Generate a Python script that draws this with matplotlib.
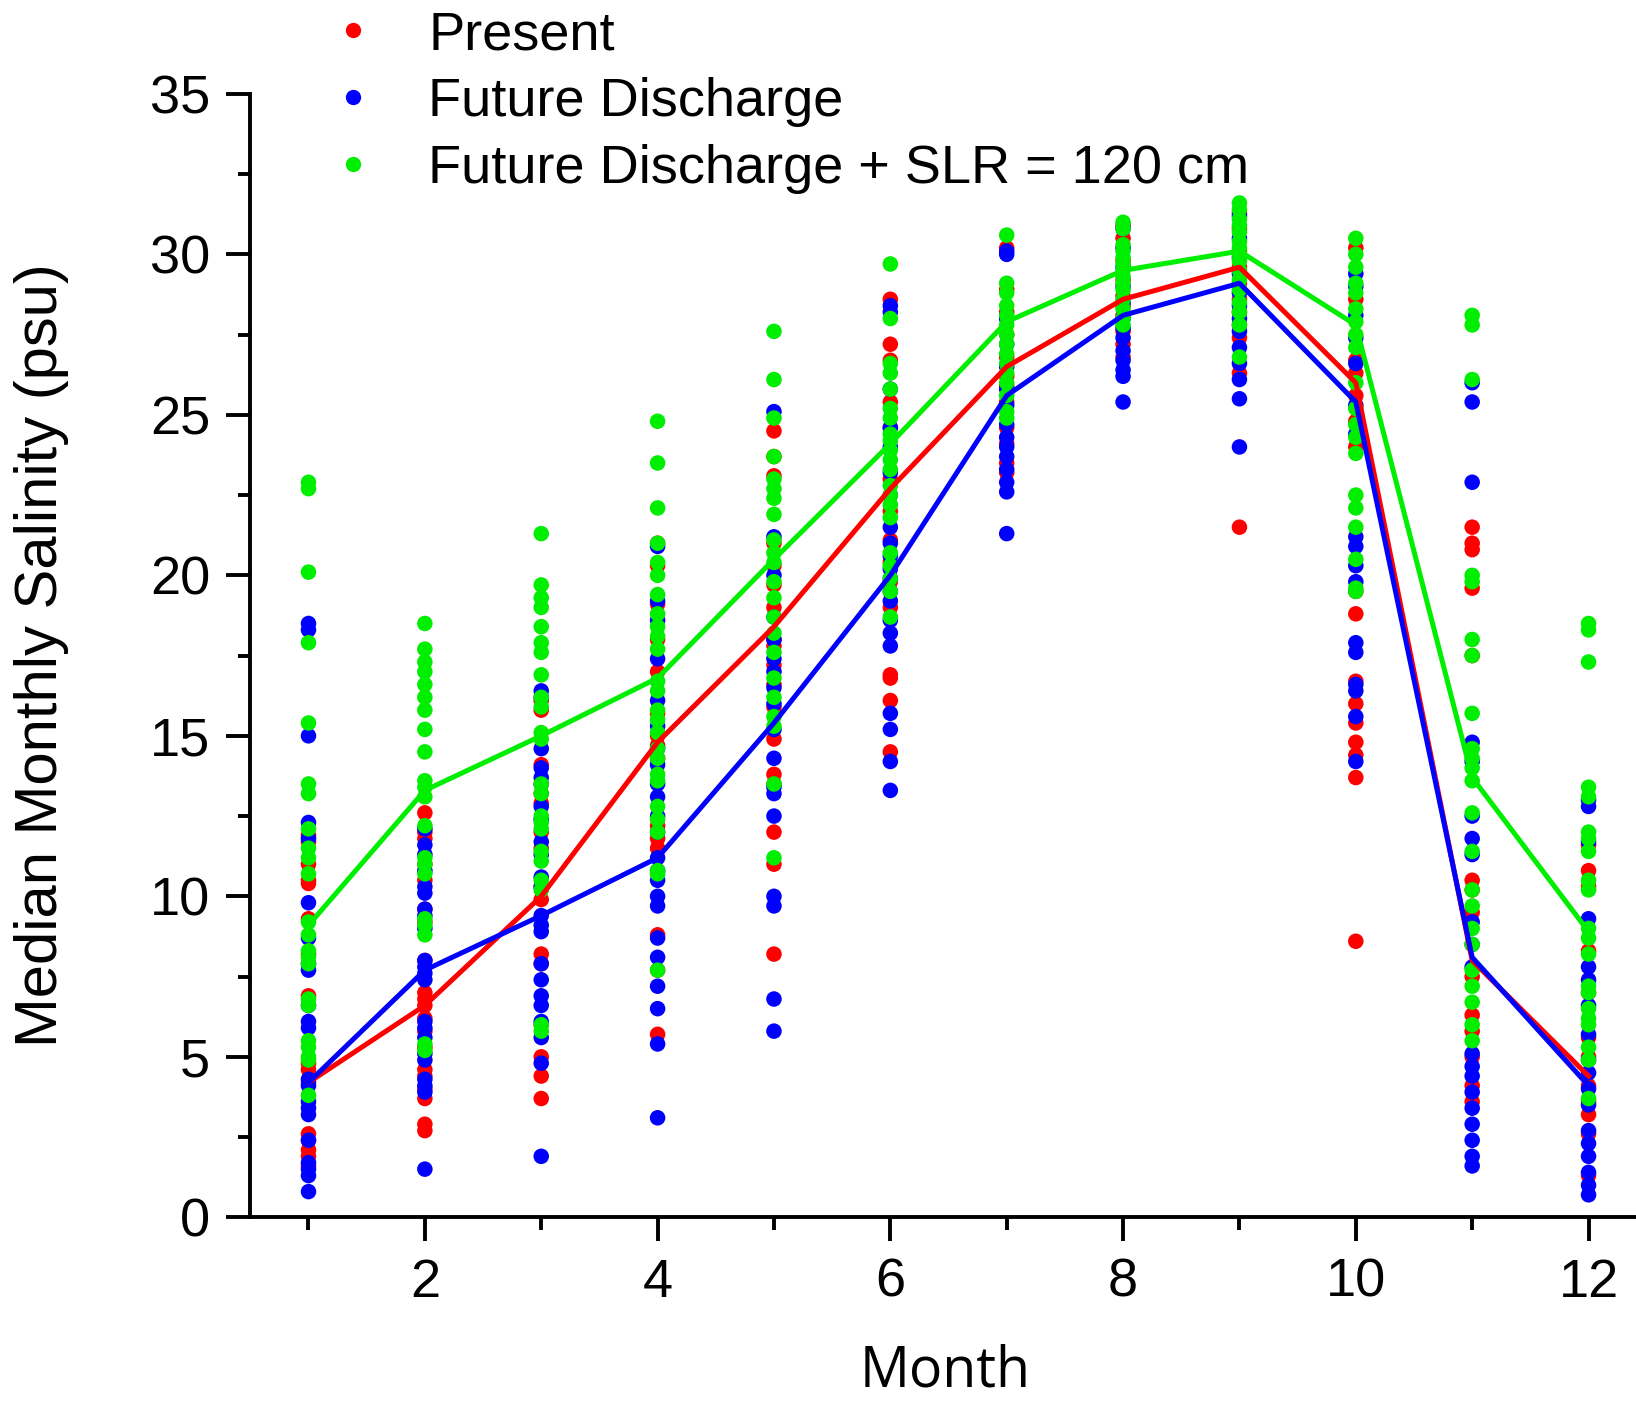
import matplotlib
matplotlib.use("Agg")
import matplotlib.pyplot as plt
from matplotlib.ticker import MultipleLocator
from matplotlib.lines import Line2D

months = list(range(1, 13))

# Scatter values per month (psu)
present = {
    1: [11.9, 11.7, 11.0, 10.5, 10.4, 9.3, 8.2, 6.9, 4.8, 4.6, 4.2, 2.6, 2.4, 2.1, 1.9, 1.6],
    2: [12.6, 12.0, 11.8, 11.0, 10.5, 9.6, 9.2, 8.0, 7.0, 6.8, 6.6, 6.2, 5.8, 5.3, 4.6, 4.4, 4.0, 3.7, 2.9, 2.7],
    3: [16.1, 15.8, 14.1, 13.2, 12.9, 12.0, 11.5, 10.3, 9.9, 8.2, 7.9, 6.0, 5.0, 4.4, 3.7],
    4: [21.0, 20.3, 19.1, 18.0, 17.0, 15.7, 15.0, 14.7, 14.3, 12.2, 11.8, 11.5, 8.8, 7.7, 5.7],
    5: [24.5, 23.7, 23.1, 21.0, 20.3, 19.7, 19.0, 18.0, 17.8, 17.2, 16.6, 15.9, 14.9, 13.8, 13.5, 12.0, 11.0, 8.2],
    6: [28.6, 27.2, 26.7, 25.4, 24.6, 23.0, 22.0, 21.1, 20.4, 19.8, 19.0, 16.9, 16.8, 16.1, 14.5],
    7: [30.2, 28.9, 28.2, 27.5, 26.8, 26.2, 25.9, 25.4, 24.6, 24.1, 23.5, 23.2],
    8: [30.9, 30.5, 29.8, 29.2, 28.7, 28.4, 28.1, 27.6, 27.2, 26.8],
    9: [31.3, 30.8, 30.1, 29.6, 29.1, 28.6, 28.2, 27.8, 27.4, 26.3, 21.5],
    10: [30.2, 28.6, 26.7, 26.3, 25.6, 24.8, 24.0, 19.5, 18.8, 16.7, 16.0, 15.4, 14.8, 14.4, 13.7, 8.6],
    11: [21.5, 21.0, 20.8, 19.6, 17.5, 10.5, 10.2, 9.5, 7.5, 6.3, 5.8, 5.0, 4.1, 3.6],
    12: [11.6, 10.8, 10.3, 8.3, 7.0, 5.6, 5.0, 4.1, 3.6, 3.2, 2.6, 1.3],
}
future = {
    1: [18.5, 18.3, 15.0, 12.3, 11.8, 9.8, 8.7, 7.9, 7.7, 6.6, 6.1, 5.9, 4.3, 4.1, 3.6, 3.4, 3.2, 2.4, 1.7, 1.5, 1.3, 0.8],
    2: [12.1, 11.6, 11.3, 10.8, 10.3, 10.1, 9.6, 9.4, 9.0, 8.0, 7.8, 7.6, 7.4, 6.1, 5.9, 5.6, 5.1, 4.9, 4.3, 4.1, 3.9, 1.5],
    3: [16.4, 16.2, 14.6, 14.0, 13.7, 13.5, 12.8, 12.4, 11.7, 11.3, 10.6, 10.3, 9.4, 9.1, 8.9, 7.9, 7.4, 6.9, 6.6, 6.1, 5.6, 4.8, 1.9],
    4: [20.9, 19.2, 18.6, 17.4, 16.1, 15.3, 14.6, 14.1, 13.5, 13.1, 12.5, 12.0, 11.2, 10.8, 10.5, 10.0, 9.7, 8.7, 8.1, 7.2, 6.5, 5.4, 3.1],
    5: [25.1, 21.2, 20.0, 18.7, 18.0, 17.4, 17.0, 16.5, 16.0, 15.2, 14.3, 13.4, 13.2, 12.5, 10.0, 9.7, 6.8, 5.8],
    6: [28.4, 28.2, 25.8, 24.6, 24.0, 23.2, 22.5, 21.5, 21.0, 20.6, 20.2, 19.9, 19.5, 19.2, 18.6, 18.2, 17.8, 15.7, 15.2, 14.2, 13.3],
    7: [30.1, 30.0, 28.0, 27.2, 26.5, 25.8, 25.3, 24.7, 24.3, 24.0, 23.7, 23.3, 22.9, 22.6, 21.3],
    8: [30.8, 30.2, 29.6, 29.0, 28.5, 28.0, 27.7, 27.4, 27.0, 26.7, 26.4, 26.2, 25.4],
    9: [31.2, 30.5, 29.9, 29.4, 28.8, 28.4, 28.0, 27.6, 27.1, 26.6, 26.1, 25.5, 24.0],
    10: [29.4, 29.0, 28.1, 27.4, 26.6, 25.3, 24.4, 21.2, 20.9, 20.3, 19.8, 17.9, 17.6, 16.6, 16.4, 15.6, 14.2],
    11: [26.0, 25.4, 22.9, 14.8, 14.2, 12.5, 11.8, 11.3, 9.2, 8.5, 7.8, 5.1, 4.7, 4.4, 3.9, 3.4, 2.9, 2.4, 1.9, 1.6],
    12: [13.0, 12.8, 11.7, 9.3, 7.8, 7.4, 6.6, 5.7, 4.9, 4.5, 4.0, 3.5, 2.7, 2.3, 1.9, 1.4, 1.0, 0.7],
}
future_slr = {
    1: [22.9, 22.7, 20.1, 17.9, 15.4, 13.5, 13.2, 12.1, 11.5, 11.2, 10.7, 9.2, 8.8, 8.3, 8.1, 7.9, 6.8, 6.6, 5.5, 5.3, 5.0, 4.9, 3.8],
    2: [18.5, 17.7, 17.3, 17.0, 16.6, 16.2, 15.8, 15.2, 14.5, 13.6, 13.4, 13.1, 12.2, 11.2, 11.0, 10.7, 9.3, 9.1, 8.8, 5.4, 5.2],
    3: [21.3, 19.7, 19.3, 19.0, 18.4, 17.9, 17.6, 16.9, 16.2, 15.9, 15.1, 14.9, 13.5, 13.2, 12.5, 12.3, 12.1, 11.4, 11.1, 10.5, 10.2, 6.0, 5.8],
    4: [24.8, 23.5, 22.1, 21.0, 20.4, 20.0, 19.4, 18.8, 18.4, 18.1, 17.7, 16.7, 16.4, 15.8, 15.5, 15.1, 14.6, 14.3, 13.8, 13.6, 12.8, 12.4, 12.0, 10.8, 10.7, 7.7],
    5: [27.6, 26.1, 24.9, 23.7, 23.0, 22.7, 22.4, 21.9, 21.1, 20.7, 20.4, 19.8, 19.3, 18.7, 18.2, 17.6, 16.8, 16.2, 15.6, 15.3, 13.5, 11.2],
    6: [29.7, 28.0, 26.6, 26.3, 25.8, 25.2, 24.9, 24.4, 24.2, 23.9, 23.6, 23.3, 22.8, 22.5, 22.2, 21.8, 20.7, 20.3, 19.9, 19.5, 18.7],
    7: [30.6, 29.1, 28.8, 28.4, 28.1, 27.8, 27.5, 27.2, 26.9, 26.6, 26.3, 26.0, 25.6, 25.1, 24.9],
    8: [31.0, 30.8, 30.3, 30.1, 29.9, 29.7, 29.5, 29.3, 29.1, 28.9, 28.6, 28.3, 28.0, 27.8],
    9: [31.6, 31.4, 31.1, 30.9, 30.7, 30.4, 30.2, 30.0, 29.8, 29.5, 29.2, 28.9, 28.5, 28.2, 27.8, 26.8],
    10: [30.5, 30.0, 29.6, 29.1, 28.8, 28.3, 27.9, 27.5, 27.1, 26.0, 25.2, 24.7, 24.3, 23.8, 22.5, 22.1, 21.5, 20.5, 19.6, 19.5],
    11: [28.1, 27.8, 26.1, 20.0, 19.8, 18.0, 17.5, 15.7, 14.6, 14.3, 14.0, 13.6, 12.6, 11.4, 10.2, 9.7, 9.0, 8.5, 7.7, 7.2, 6.7, 6.0, 5.5],
    12: [18.5, 18.3, 17.3, 13.4, 13.1, 12.0, 11.8, 11.4, 10.5, 10.2, 9.0, 8.7, 8.2, 7.2, 7.0, 6.5, 6.2, 6.0, 5.3, 4.9, 3.7],
}

# Median lines
median_present = [4.2, 6.6, 10.0, 14.8, 18.4, 22.7, 26.5, 28.6, 29.6, 26.0, 8.0, 4.4]
median_future = [4.2, 7.7, 9.4, 11.2, 15.4, 20.0, 25.6, 28.1, 29.1, 25.4, 8.1, 4.1]
median_future_slr = [9.1, 13.3, 15.0, 16.8, 20.5, 24.1, 27.9, 29.5, 30.1, 27.8, 13.7, 8.9]

labels = ["Present", "Future Discharge", "Future Discharge + SLR = 120 cm"]
colors = ["#ff0000", "#0000ff", "#00ee00"]

FONT = ["Liberation Sans", "DejaVu Sans"]

fig = plt.figure(figsize=(16.36, 14.05), dpi=100)
ax = fig.add_axes([0.153, 0.1336, 0.85, 0.7996])

for data, c in zip([present, future, future_slr], colors):
    xs, ys = [], []
    for m in months:
        xs += [m] * len(data[m])
        ys += data[m]
    ax.scatter(xs, ys, s=125, color=c, edgecolors="none", zorder=2)

for med, c in zip([median_present, median_future, median_future_slr], colors):
    ax.plot(months, med, color=c, lw=3.6, zorder=3)

ax.set_xlim(0.5, 12.45)
ax.set_ylim(0, 35)
ax.xaxis.set_major_locator(MultipleLocator(2))
ax.xaxis.set_minor_locator(MultipleLocator(1))
ax.yaxis.set_major_locator(MultipleLocator(5))
ax.yaxis.set_minor_locator(MultipleLocator(2.5))
for s in ["top", "right"]:
    ax.spines[s].set_visible(False)
for s in ["left", "bottom"]:
    ax.spines[s].set_linewidth(2.8)
ax.tick_params(which="major", direction="out", length=17, width=2.8, pad=12)
ax.tick_params(which="minor", direction="out", length=9, width=2.8)
for lab in ax.get_xticklabels() + ax.get_yticklabels():
    lab.set_fontfamily(FONT)
    lab.set_fontsize(39)

ax.set_xlabel("Month", fontsize=40, family=["Open Sans", "DejaVu Sans"], labelpad=26)
ax.set_ylabel("Median Monthly Salinity (psu)", fontsize=43, family=FONT, labelpad=58)

handles = [Line2D([], [], ls="none", marker="o", markersize=11, color=c, markeredgewidth=0) for c in colors]
ax.legend(handles, labels, loc="upper left", bbox_to_anchor=(0.186, 1.008), bbox_transform=fig.transFigure,
          frameon=False, prop={"family": FONT, "size": 39}, handletextpad=0.89, labelspacing=0.31,
          borderaxespad=0, handlelength=1.0)

fig.savefig("out.png", dpi=100)
